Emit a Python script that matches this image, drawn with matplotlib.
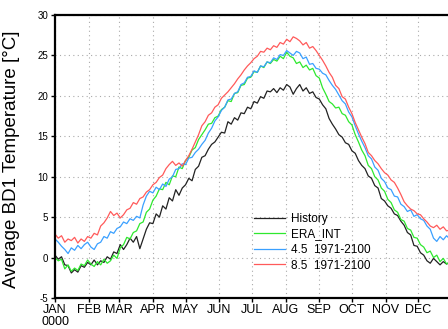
import matplotlib
matplotlib.use("Agg")
import matplotlib.pyplot as plt
import numpy as np

# day of year, sampled every 3 days
days = np.arange(0, 364, 3)

history = [0.3, -0.2, 0.1, -0.9, -1.0, -1.9, -1.5, -1.8, -1.0, -1.2,
           -0.6, -0.9, -0.3, -0.9, -0.4, -0.6, 0.1, -0.2, 0.7, 0.5,
           1.6, 1.0, 1.6, 2.4, 1.9, 2.6, 1.1, 2.3, 3.5, 4.3,
           4.2, 5.4, 5.0, 6.4, 6.0, 7.4, 7.0, 8.4, 7.7, 8.6,
           9.0, 9.8, 9.5, 10.9, 11.3, 12.4, 12.6, 13.4, 14.0, 14.3,
           14.9, 15.5, 15.4, 16.8, 16.5, 17.3, 17.0, 17.9, 17.8, 18.6,
           18.4, 19.3, 19.1, 19.9, 19.7, 20.6, 20.5, 20.9, 20.4, 21.0,
           20.7, 21.4, 21.1, 20.2, 20.9, 21.4, 20.6, 21.0, 20.3, 20.5,
           19.8, 19.6, 18.9, 18.4, 17.2, 16.5, 15.9, 15.2, 14.9, 14.2,
           14.0, 13.2, 12.9, 12.0, 11.4, 11.0, 10.1, 9.8, 8.9, 8.6,
           7.3, 7.0, 6.4, 6.1, 5.4, 5.2, 4.5, 4.0, 3.1, 2.8,
           1.5, 1.4, 0.6, 0.3, -0.4, -0.7, -0.1, -0.5, -0.9, -0.5,
           -0.8, -0.6]

era_int = [0.0, -0.4, -0.2, -1.4, -0.9, -1.7, -1.3, -1.6, -0.8, -1.0,
           -0.3, -0.8, -1.1, -0.5, -0.9, -0.2, -0.7, -0.4, 0.3, -0.1,
           1.2, 1.6, 2.5, 2.3, 3.1, 3.3, 4.2, 4.4, 5.6, 6.0,
           7.1, 7.6, 8.5, 8.4, 9.3, 9.0, 10.1, 10.0, 11.2, 11.0,
           12.0, 12.4, 13.3, 13.6, 14.6, 15.2, 15.8, 16.5, 16.6, 17.3,
           17.5, 18.3, 18.6, 19.4, 19.3, 20.3, 20.4, 21.3, 21.4, 22.2,
           22.3, 23.0, 22.9, 23.7, 23.5, 24.2, 24.0, 24.5, 24.3, 24.9,
           24.6, 25.4, 24.9, 24.7, 24.0, 24.2, 23.5, 23.8, 23.2, 23.4,
           22.5, 22.2, 21.0, 20.2, 19.3, 19.0, 18.5, 18.6, 17.8, 17.6,
           16.8, 16.4, 15.2, 14.3, 13.3, 12.6, 11.4, 11.0, 10.0, 9.6,
           8.6, 8.2, 7.2, 6.8, 5.9, 5.6, 4.7, 4.5, 3.6, 3.4,
           2.5, 2.4, 1.6, 1.3, 0.6, 0.8, 0.0, 0.3, -0.5, -0.1,
           -0.8, -0.5]

rcp45 = [2.3, 1.9, 1.4, 1.0, 0.5, 1.2, 0.9, 1.5, 1.1, 1.6,
         1.9, 1.3, 1.0, 1.7, 1.9, 2.6, 2.4, 3.2, 3.0, 3.6,
         3.8, 4.4, 4.2, 4.8, 4.6, 5.1, 4.9, 6.5, 7.6, 8.2,
         8.0, 8.7, 8.4, 9.1, 8.8, 9.7, 10.0, 10.9, 11.0, 11.6,
         11.5, 12.3, 12.4, 13.0, 13.4, 14.0, 14.5, 15.4, 16.0, 16.9,
         17.4, 18.2, 18.6, 19.5, 19.6, 20.3, 20.5, 21.4, 21.6, 22.3,
         22.4, 23.1, 22.9, 23.7, 23.6, 24.2, 24.1, 24.7, 24.5, 25.1,
         25.0, 25.6, 25.3, 25.0, 25.5, 25.3, 24.6, 24.8, 23.9, 24.0,
         23.4, 23.3, 22.8, 22.6, 21.9, 21.3, 20.8, 20.1, 19.4, 19.0,
         18.0, 17.4, 16.3, 15.3, 14.4, 13.6, 12.6, 12.2, 11.2, 10.8,
         9.8, 9.4, 8.6, 8.4, 7.6, 7.5, 6.6, 6.3, 5.7, 5.9,
         5.1, 5.3, 4.8, 4.6, 3.9, 3.5, 2.4, 2.0, 2.6, 2.2,
         2.7, 2.3]

rcp85 = [2.9, 2.4, 2.7, 1.9, 2.3, 2.1, 2.5, 1.8, 2.3, 2.0,
         2.6, 2.4, 3.0, 2.8, 3.9, 4.3, 4.9, 5.7, 5.2, 5.5,
         4.9, 5.3, 5.9, 6.1, 6.8, 6.6, 7.3, 7.5, 8.1, 8.4,
         9.0, 9.3, 9.9, 10.2, 11.0, 11.5, 11.9, 11.4, 11.7, 11.3,
         12.0, 12.6, 13.4, 14.3, 15.2, 16.3, 16.8, 17.6, 17.9, 18.6,
         18.9, 19.7, 20.1, 20.5, 21.0, 21.5, 22.1, 22.6, 23.2, 23.7,
         24.1, 24.6, 24.9, 25.5, 25.4, 25.9, 25.7, 26.2, 26.0, 26.6,
         26.4, 27.0, 26.7, 27.3, 27.1, 26.8, 26.3, 26.6, 25.9, 26.1,
         25.6, 25.0, 24.4, 23.7, 22.9, 22.3, 21.3, 20.9, 19.9, 19.6,
         18.6, 17.8, 16.7, 15.8, 14.9, 14.1, 13.0, 12.6, 12.0, 11.6,
         11.0, 10.5, 10.2, 9.6, 9.3, 8.6, 7.8, 6.9, 6.4, 6.0,
         5.8, 5.4, 5.3, 4.8, 4.4, 3.9, 3.7, 4.0, 3.5, 3.8,
         3.3, 3.4]

month_starts = [0, 31, 59, 90, 120, 151, 181, 212, 243, 273, 304, 334]
month_labels = ['JAN\n0000', 'FEB', 'MAR', 'APR', 'MAY', 'JUN',
                'JUL', 'AUG', 'SEP', 'OCT', 'NOV', 'DEC']
y_ticks = [-5, 0, 5, 10, 15, 20, 25, 30]

plt.rcParams['font.family'] = ['Liberation Sans', 'DejaVu Sans']

fig = plt.figure(figsize=(4.48, 3.29), dpi=100)
ax = fig.add_axes([55 / 448, 31 / 329, 397 / 448, 283 / 329])

ax.plot(days, history, color='#222222', lw=0.9, label='History')
ax.plot(days, era_int, color='#2ee82e', lw=0.9, label='ERA_INT')
ax.plot(days, rcp45, color='#3aa0ff', lw=0.9, label='4.5  1971-2100')
ax.plot(days, rcp85, color='#ff5a5a', lw=0.9, label='8.5  1971-2100')

ax.set_xlim(0, 365)
ax.set_ylim(-5, 30)
ax.set_xticks(month_starts)
ax.set_xticklabels(month_labels, fontsize=9, linespacing=1.0)
ax.set_yticks(y_ticks)
ax.set_yticklabels([str(v) for v in y_ticks], fontsize=7)
ax.tick_params(direction='out', length=3, width=1, pad=2)
ax.tick_params(axis='x', pad=1)

ax.grid(True, color='#aaaaaa', linestyle=(0, (1, 3)), lw=0.8)
for s in ax.spines.values():
    s.set_linewidth(1.6)
    s.set_color('black')

ax.set_ylabel('Average BD1 Temperature [°C]', fontsize=13.5)
ax.yaxis.set_label_coords(-0.088, 0.49)

ax.legend(loc='upper left', bbox_to_anchor=(248 / 448, 1 - 207 / 329),
          bbox_transform=fig.transFigure, frameon=False, fontsize=8.5,
          handlelength=2.6, handletextpad=0.5, labelspacing=0.3,
          borderpad=0)

fig.savefig('out.png', dpi=100)
